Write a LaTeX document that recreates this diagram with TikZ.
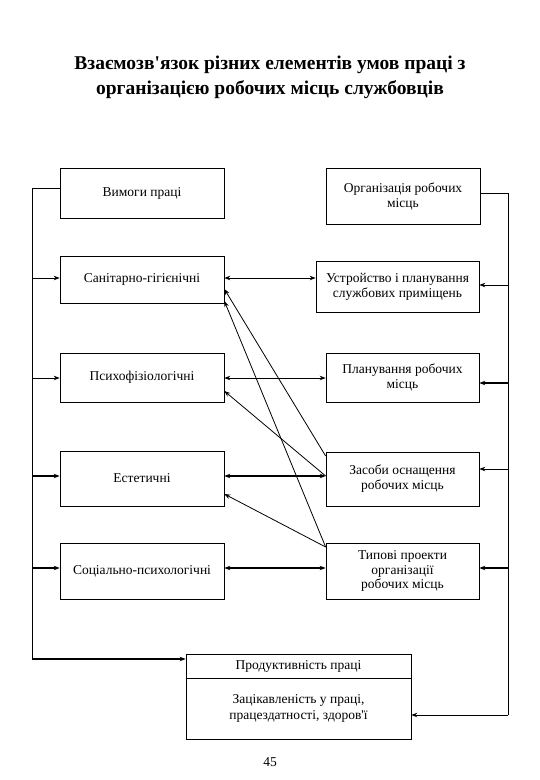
\documentclass[tikz,border=0pt]{standalone}
\usepackage{fontspec}
\setmainfont{Liberation Serif}[Ligatures=TeXOff]
\usetikzlibrary{arrows.meta,calc}
\begin{document}
\begin{tikzpicture}[x=1pt,y=-1pt,
  box/.style={draw,line width=0.7pt,inner sep=1pt,align=center,font=\fontsize{13.5}{15}\selectfont},
  arr/.style={line width=0.8pt,-{Stealth[length=6pt,width=4.5pt]}},
  dbl/.style={line width=0.8pt,{Stealth[length=6pt,width=4.5pt]}-{Stealth[length=6pt,width=4.5pt]}},
  thk/.style={line width=1.3pt},
  ln/.style={line width=0.8pt}]
\useasboundingbox (0,0) rectangle (540,780);
\node[font=\bfseries\fontsize{19.5}{25}\selectfont,align=center] (title) at (270,77)
  {Взаємозв'язок різних елементів умов праці з\\організацією робочих місць службовців};
% left boxes
\node[box,minimum width=164,minimum height=50] (vym) at (142,193) {Вимоги праці};
\node[box,minimum width=164,minimum height=47] (san) at (142,279.5) {Санітарно-гігієнічні};
\node[box,minimum width=164,minimum height=49] (psy) at (142,377.5) {Психофізіологічні};
\node[box,minimum width=164,minimum height=55] (est) at (142,478.5) {Естетичні};
\node[box,minimum width=164,minimum height=56] (soc) at (142,571) {Соціально-психологічні};
% right boxes
\node[box,minimum width=154,minimum height=56] (org) at (403,196) {Організація робочих\\місць};
\node[box,minimum width=163,minimum height=51] (ust) at (397.5,286.5) {Устройство і планування\\службових приміщень};
\node[box,minimum width=153,minimum height=49] (pla) at (402.5,377.5) {Планування робочих\\місць};
\node[box,minimum width=153,minimum height=54] (zas) at (402.5,479) {Засоби оснащення\\робочих місць};
\node[box,minimum width=153,minimum height=56,font=\fontsize{13.5}{14.5}\selectfont] (typ) at (402.5,571) {Типові проекти\\організації\\робочих місць};
% bottom box
\node[draw,line width=0.7pt,minimum width=225,minimum height=85] (prod) at (298.5,696.5) {};
\node[font=\fontsize{13.5}{15}\selectfont] (prodt) at (298.5,666.5) {Продуктивність праці};
\node[font=\fontsize{13.5}{16}\selectfont,align=center] (zac) at (298.5,708) {Зацікавленість у праці,\\працездатності, здоров'ї};
\draw[line width=0.7pt] (prod.west |- 0,678) -- (prod.east |- 0,678);
% left bus
\coordinate (lt) at (32,188);
\coordinate (lb) at (32,659);
\draw[ln] (vym.west |- lt) -- (lt) -- (lb);
\draw[arr,thk] (lb) -- (prod.west |- lb);
\draw[arr] (32,278) -- (san.west |- 0,278);
\draw[arr] (32,378) -- (psy.west |- 0,378);
\draw[arr,thk] (32,476) -- (est.west |- 0,476);
\draw[arr,thk] (32,568) -- (soc.west |- 0,568);
% right bus
\coordinate (rt) at (508,193);
\coordinate (rb) at (508,715);
\draw[ln] (org.east |- rt) -- (rt) -- (rb);
\draw[arr] (rb) -- (prod.east |- rb);
\draw[arr] (508,285) -- (ust.east |- 0,285);
\draw[arr,thk] (508,383) -- (pla.east |- 0,383);
\draw[arr] (508,469) -- (zas.east |- 0,469);
\draw[arr,thk] (508,568) -- (typ.east |- 0,568);
% horizontal links
\draw[dbl] (san.east |- 0,278) -- (ust.west |- 0,278);
\draw[dbl] (psy.east |- 0,378) -- (pla.west |- 0,378);
\draw[dbl,thk] (est.east |- 0,476) -- (zas.west |- 0,476);
\draw[dbl,thk] (soc.east |- 0,568) -- (typ.west |- 0,568);
% diagonals
\draw[arr] (zas.west |- 0,456) -- (san.east |- 0,289);
\draw[arr] (typ.west |- 0,547) -- (san.east |- 0,301);
\draw[arr] (zas.west |- 0,476) -- (psy.east |- 0,391);
\draw[arr] (typ.west |- 0,547) -- (est.east |- 0,494);
% page number
\node[font=\fontsize{13.5}{15}\selectfont] (page) at (270,762) {45};
\end{tikzpicture}
\end{document}
